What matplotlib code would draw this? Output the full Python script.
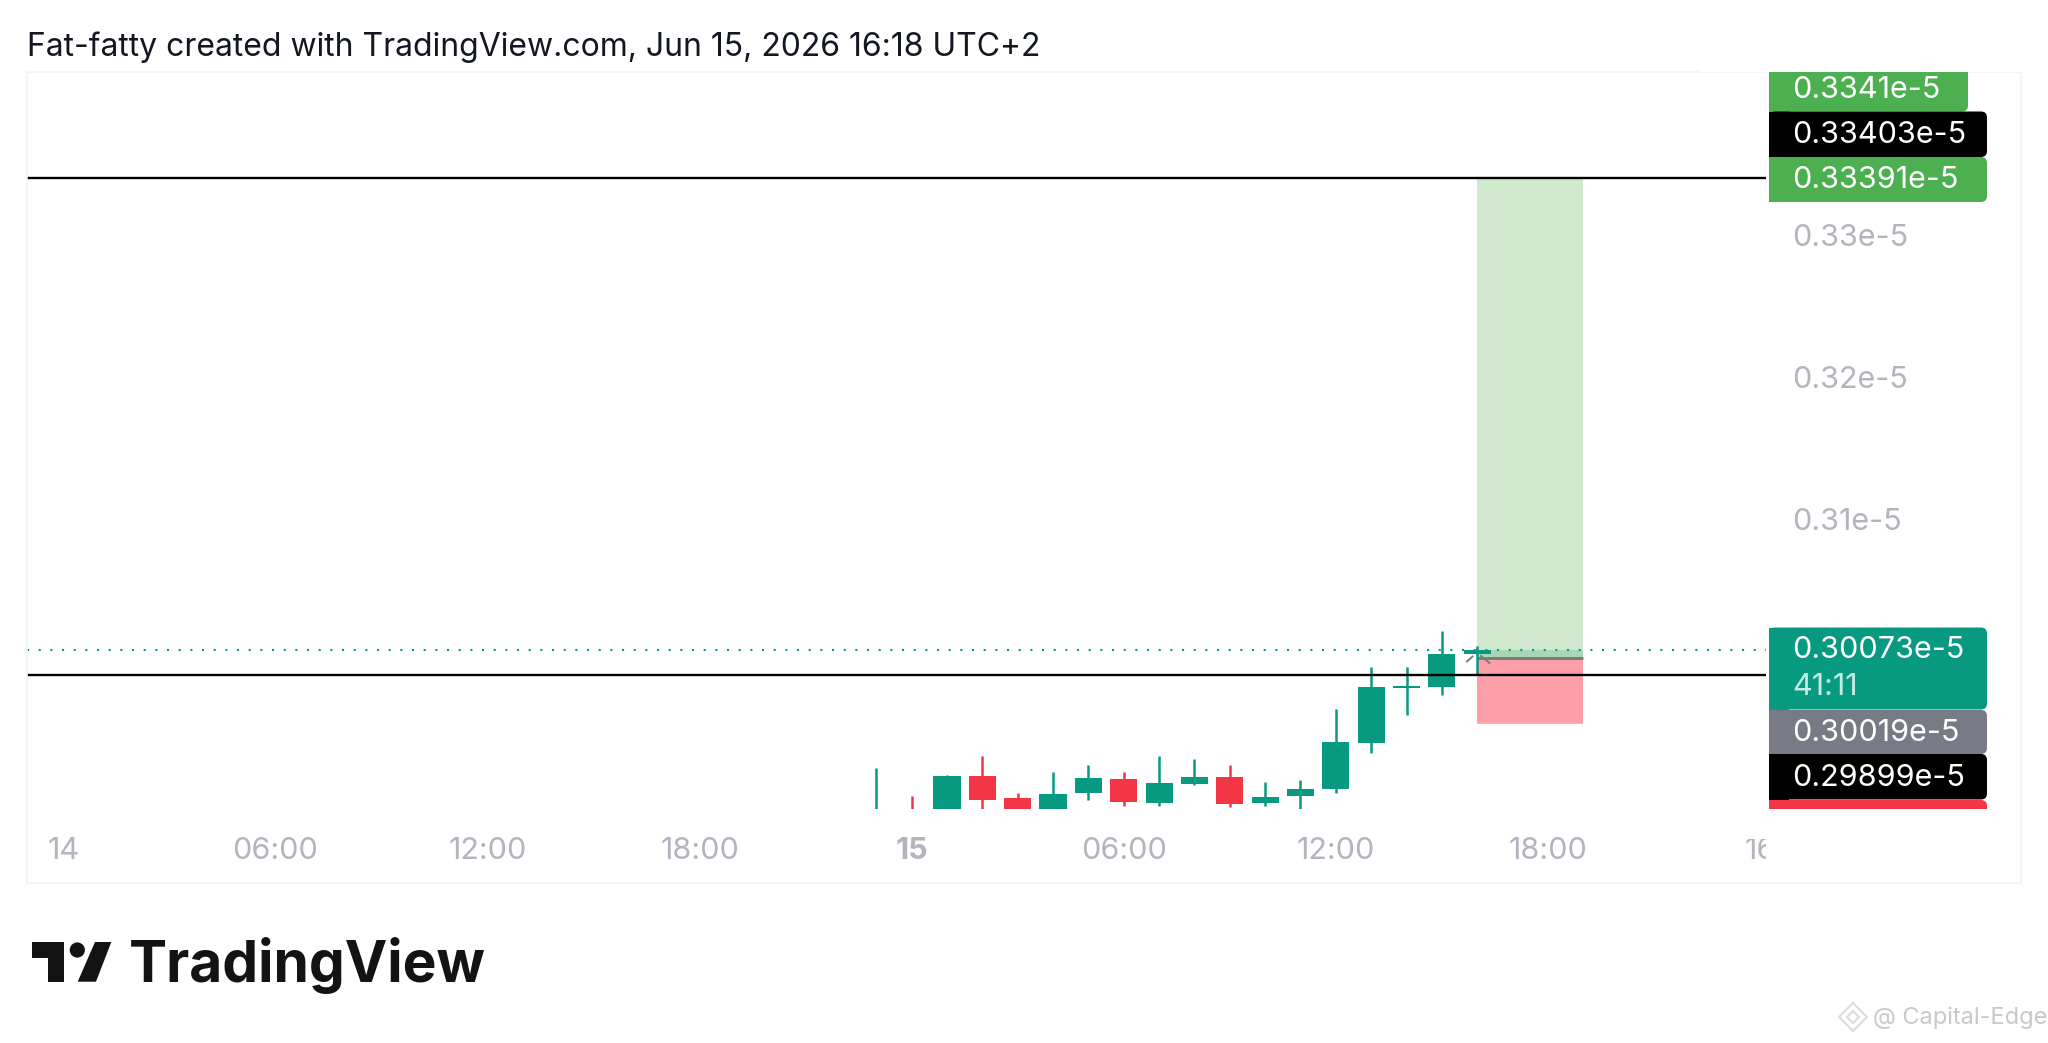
import matplotlib
matplotlib.use('Agg')
import matplotlib.pyplot as plt
from matplotlib.patches import Rectangle, FancyBboxPatch, Polygon, Circle
from matplotlib.transforms import Bbox

plt.rcParams['font.family'] = ['Inter', 'DejaVu Sans']

# hourly candles, hours counted from Jun 15 00:00, prices in units of 1e-5
hours = [-1, 0, 1, 2, 3, 4, 5, 6, 7, 8, 9, 10, 11, 12, 13, 14, 15, 16]
opens = [0.2880, 0.2885, 0.2890, 0.29184, 0.29027, 0.2890, 0.29062, 0.29163, 0.28991, 0.2913,
         0.29177, 0.28991, 0.29043, 0.29093, 0.29419, 0.29807, 0.29814, 0.30042]
closes = [0.2885, 0.2880, 0.29184, 0.29015, 0.2890, 0.29057, 0.2917, 0.29003, 0.29132, 0.29177,
          0.28987, 0.29039, 0.29095, 0.29426, 0.2981, 0.29819, 0.30044, 0.30073]
highs = [0.29238, 0.29043, 0.29191, 0.29327, 0.29067, 0.29215, 0.29262, 0.29215, 0.29327, 0.29304,
         0.29262, 0.2914, 0.29154, 0.29654, 0.29955, 0.29955, 0.30209, 0.30103]
lows = [0.2880, 0.2880, 0.2890, 0.2890, 0.2890, 0.2890, 0.29015, 0.28973, 0.28973, 0.29121,
        0.28966, 0.28973, 0.2890, 0.29067, 0.29349, 0.29614, 0.29755, 0.29904]

target_line = 0.33403
stop_line = 0.29899
entry_price = 0.30019
last_price = 0.30073
stop_box = 0.2956
box_hours = [16, 19]

price_ticks = [0.31, 0.32, 0.33]
price_tick_labels = ['0.31e-5', '0.32e-5', '0.33e-5']
time_ticks = [-24, -18, -12, -6, 0, 6, 12, 18, 24]
time_tick_labels = ['14', '06:00', '12:00', '18:00', '15', '06:00', '12:00', '18:00', '16']

title = 'Fat-fatty created with TradingView.com, Jun 15, 2026 16:18 UTC+2'

UP = '#089981'
DOWN = '#F23645'
TICK = '#B2B5BE'

fig = plt.figure(figsize=(20.48, 10.43), dpi=100, facecolor='white')

# pane occupies x 27..1766, y 72..809 in pixels
ax = fig.add_axes([27 / 2048, 1 - 809 / 1043, (1766 - 27) / 2048, (809 - 72) / 1043])
ax.set_xlim(-25.03, 24.17)
ax.set_ylim(0.289513, 0.341495)
for s in ax.spines.values():
    s.set_visible(False)

# position box
ax.add_patch(Rectangle((box_hours[0], entry_price), box_hours[1] - box_hours[0], target_line - entry_price,
                       fc='#CFE8CE', ec='none', zorder=1))
ax.add_patch(Rectangle((box_hours[0], stop_box), box_hours[1] - box_hours[0], entry_price - stop_box,
                       fc='#FC9FA8', ec='none', zorder=1))
ax.add_patch(Rectangle((box_hours[0], entry_price), box_hours[1] - box_hours[0], last_price - entry_price,
                       fc='#A9D6B4', ec='none', zorder=1.1))
ax.plot(box_hours, [entry_price, entry_price], color='#777777', lw=2, zorder=1.2, solid_capstyle='butt')
ax.plot(box_hours, [stop_box, stop_box], color='#F8A5AC', lw=1.2, zorder=1.2, solid_capstyle='butt')

# horizontal levels
ax.axhline(target_line, color='black', lw=1.7, zorder=2)
ax.axhline(stop_line, color='black', lw=1.7, zorder=4)
ax.axhline(last_price, color=UP, lw=1.5, ls=(0, (1, 4.6)), zorder=2)

# candles
for h, o, c, hi, lo in zip(hours, opens, closes, highs, lows):
    col = UP if c >= o else DOWN
    ax.vlines(h, lo, hi, color=col, lw=1.8, zorder=3)
    ax.bar(h, abs(c - o), width=0.77, bottom=min(o, c), color=col, zorder=3)

ax.yaxis.tick_right()
ax.set_yticks(price_ticks)
ax.set_yticklabels(price_tick_labels)
ax.set_xticks(time_ticks)
ax.set_xticklabels(time_tick_labels)
ax.tick_params(axis='y', length=0, pad=18.5, labelsize=22, labelcolor=TICK)
ax.tick_params(axis='x', length=0, pad=20, labelsize=22, labelcolor=TICK)
clip = Bbox([[0, 0], [1766, 1043]])
for lbl in ax.get_xticklabels():
    lbl.set_clip_on(True)
    lbl.set_clip_box(clip)
    if lbl.get_text() == '15':
        lbl.set_fontweight('bold')

# everything outside the pane, in pixel coordinates
ov = fig.add_axes([0, 0, 1, 1], facecolor='none')
ov.set_xlim(0, 2048)
ov.set_ylim(1043, 0)
ov.axis('off')

ov.add_patch(Rectangle((27, 72), 1994, 811, fc='none', ec='#F0F3FA', lw=1.2))


def label_box(y0, y1, color, right=1987):
    ov.add_patch(FancyBboxPatch((1769 + 6, y0 + 6), right - 1769 - 12, y1 - y0 - 12,
                                boxstyle='round,pad=6,rounding_size=6', fc=color, ec='none', zorder=5))
    ov.add_patch(Rectangle((1769, y0), 20, y1 - y0, fc=color, ec='none', zorder=5))


def label_text(y, s, color='white'):
    ov.text(1792, y, s, color=color, fontsize=22, va='center', ha='left', zorder=6)


label_box(60, 111.5, '#4CAF50', right=1968)
ov.add_patch(Rectangle((1700, 40), 340, 32, fc='white', ec='none', zorder=5.5))
label_box(111.5, 157, 'black')
label_box(157, 202, '#4CAF50')
label_box(627.5, 709.5, UP)
label_box(710, 754, '#787B86')
label_box(754, 799.5, 'black')
label_box(800, 830, DOWN)
ov.add_patch(Rectangle((1700, 809), 300, 30, fc='white', ec='none', zorder=5.5))

label_text(90, '0.3341e-5')
label_text(135, '0.33403e-5')
label_text(180, '0.33391e-5')
label_text(650, '0.30073e-5')
label_text(687, '41:11', color='#C4EBE2')
label_text(733, '0.30019e-5')
label_text(778, '0.29899e-5')

# small drag marks around the live candle
ov.plot([1467, 1472.5], [661.5, 656.5], color='#6E8482', lw=1.4, zorder=6)
ov.plot([1481, 1489.5], [656, 663], color='#6E8482', lw=1.4, zorder=6)

ov.text(27, 47, title, fontsize=23, color='#131722', va='center', ha='left')

# TradingView logo
ov.add_patch(Polygon([(32, 942), (64, 942), (64, 981.7), (48, 981.7), (48, 957.7), (32, 957.7)], fc='#131313', ec='none'))
ov.add_patch(Circle((77.3, 950), 7.6, fc='#131313', ec='none'))
ov.add_patch(Polygon([(95, 942), (111.3, 942), (96, 981.7), (77.7, 981.7)], fc='#131313', ec='none'))
ov.text(129, 981.7, 'TradingView', fontsize=41, fontweight='bold', color='#131313', va='baseline', ha='left')

# watermark
ov.add_patch(Polygon([(1853, 1003), (1867, 1017), (1853, 1031), (1839, 1017)], fc='none', ec='#DCDCDC', lw=1.5))
ov.add_patch(Polygon([(1853, 1011), (1859, 1017), (1853, 1023), (1847, 1017)], fc='none', ec='#DCDCDC', lw=1.5))
ov.text(1873, 1018, '@ Capital-Edge', fontsize=17, color='#C9C9C9', va='center', ha='left')

fig.savefig('out.png', dpi=100, facecolor='white')
